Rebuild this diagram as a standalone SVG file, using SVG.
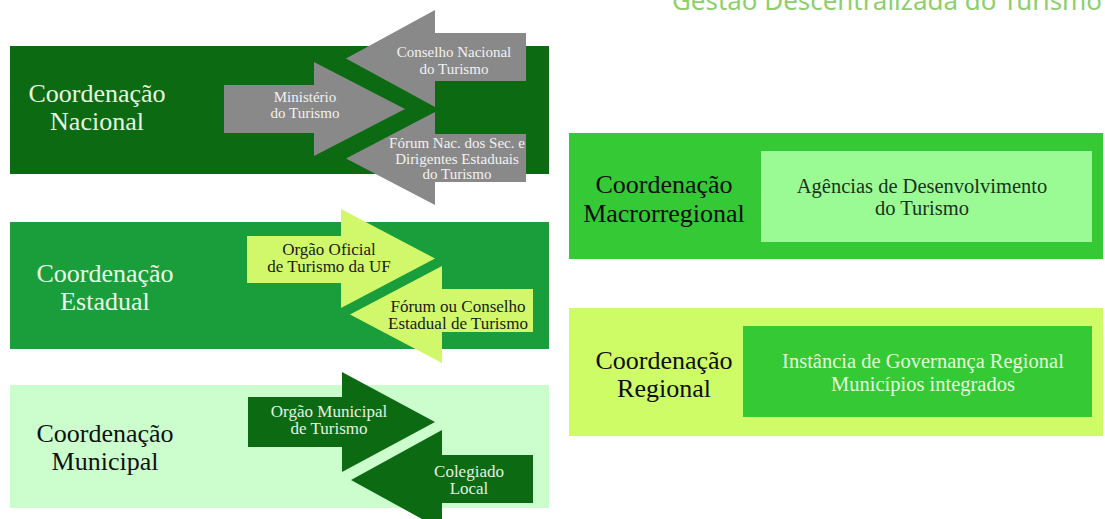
<svg xmlns="http://www.w3.org/2000/svg" width="1105" height="519" viewBox="0 0 1105 519">
<style>
.lbl{font-family:"Liberation Serif","Times New Roman",serif;font-size:26px;text-anchor:middle}
.arr{font-family:"Liberation Serif","Times New Roman",serif;font-size:17px;text-anchor:middle}
.arrs{font-family:"Liberation Serif","Times New Roman",serif;font-size:15px;text-anchor:middle}
.inn{font-family:"Liberation Serif","Times New Roman",serif;font-size:20.5px;text-anchor:middle}
.title{font-family:"Noto Sans","Open Sans",sans-serif;font-size:25px;fill:#8ccf6c}
</style>
<rect width="1105" height="519" fill="#ffffff"/>
<text class="title" x="672" y="10" textLength="430" lengthAdjust="spacingAndGlyphs">Gestão Descentralizada do Turismo</text>

<g id="nacional">
  <rect x="10" y="46" width="539" height="128" fill="#0b6a12"/>
  <text class="lbl" fill="#e6f7e0"><tspan x="97" y="102">Coordenação</tspan><tspan x="97" y="130">Nacional</tspan></text>
</g>
<g id="ministerio">
  <polygon points="224,85 314,85 314,62 405,109 314,156 314,133 224,133" fill="#898989"/>
  <text class="arrs" fill="#f2f2f2"><tspan x="305" y="102">Ministério</tspan><tspan x="305" y="118">do Turismo</tspan></text>
</g>
<g id="conselho-nacional">
  <polygon points="526,33 435,33 435,10 346,58.5 435,107 435,81 526,81" fill="#898989"/>
  <text class="arrs" fill="#f2f2f2"><tspan x="454" y="57">Conselho Nacional</tspan><tspan x="454" y="74">do Turismo</tspan></text>
</g>
<g id="forum-nacional">
  <polygon points="526,134 435,134 435,112 346,158.5 435,205 435,182 526,182" fill="#898989"/>
  <text class="arrs" fill="#f2f2f2"><tspan x="457" y="148">Fórum Nac. dos Sec. e</tspan><tspan x="457" y="164">Dirigentes Estaduais</tspan><tspan x="457" y="179">do Turismo</tspan></text>
</g>

<g id="estadual">
  <rect x="10" y="222" width="539" height="127" fill="#1a9e3b"/>
  <text class="lbl" fill="#e8fbe8"><tspan x="105" y="282">Coordenação</tspan><tspan x="105" y="310">Estadual</tspan></text>
</g>
<g id="orgao-oficial">
  <polygon points="247,236 341,236 341,209 435,258.5 341,308 341,283 247,283" fill="#d1f86a"/>
  <text class="arr" fill="#1a1a1a"><tspan x="329" y="255">Orgão Oficial</tspan><tspan x="329" y="272">de Turismo da UF</tspan></text>
</g>
<g id="forum-estadual">
  <polygon points="533,289 442,289 442,266 350,314.5 442,363 442,332 533,332" fill="#d1f86a"/>
  <text class="arr" fill="#1a1a1a"><tspan x="458" y="312">Fórum ou Conselho</tspan><tspan x="458" y="329">Estadual de Turismo</tspan></text>
</g>

<g id="municipal">
  <rect x="10" y="385" width="539" height="123" fill="#ccfdcc"/>
  <text class="lbl" fill="#111111"><tspan x="105" y="442">Coordenação</tspan><tspan x="105" y="470">Municipal</tspan></text>
</g>
<g id="orgao-municipal">
  <polygon points="248,397 342,397 342,372 435,422 342,472 342,447 248,447" fill="#0b6a12"/>
  <text class="arr" fill="#e3f3e0"><tspan x="329" y="417">Orgão Municipal</tspan><tspan x="329" y="434">de Turismo</tspan></text>
</g>
<g id="colegiado">
  <polygon points="533,455 442,455 442,430 351,480 442,530 442,503 533,503" fill="#0b6a12"/>
  <text class="arr" fill="#e3f3e0"><tspan x="469" y="477">Colegiado</tspan><tspan x="469" y="494">Local</tspan></text>
</g>

<g id="macrorregional">
  <rect x="569" y="133" width="534" height="126" fill="#35c935"/>
  <text class="lbl" fill="#0d0d0d"><tspan x="664" y="193">Coordenação</tspan><tspan x="664" y="222">Macrorregional</tspan></text>
</g>
<g id="agencias">
  <rect x="761" y="151" width="331" height="91" fill="#9afb95"/>
  <text class="inn" fill="#1a331a"><tspan x="922" y="193">Agências de Desenvolvimento</tspan><tspan x="922" y="215">do Turismo</tspan></text>
</g>

<g id="regional">
  <rect x="569" y="308" width="534" height="128" fill="#cdfc66"/>
  <text class="lbl" fill="#0d0d0d"><tspan x="664" y="369">Coordenação</tspan><tspan x="664" y="397">Regional</tspan></text>
</g>
<g id="instancia">
  <rect x="743" y="326" width="349" height="91" fill="#35c935"/>
  <text class="inn" fill="#e3fbdc"><tspan x="923" y="368">Instância de Governança Regional</tspan><tspan x="923" y="391">Municípios integrados</tspan></text>
</g>
</svg>
